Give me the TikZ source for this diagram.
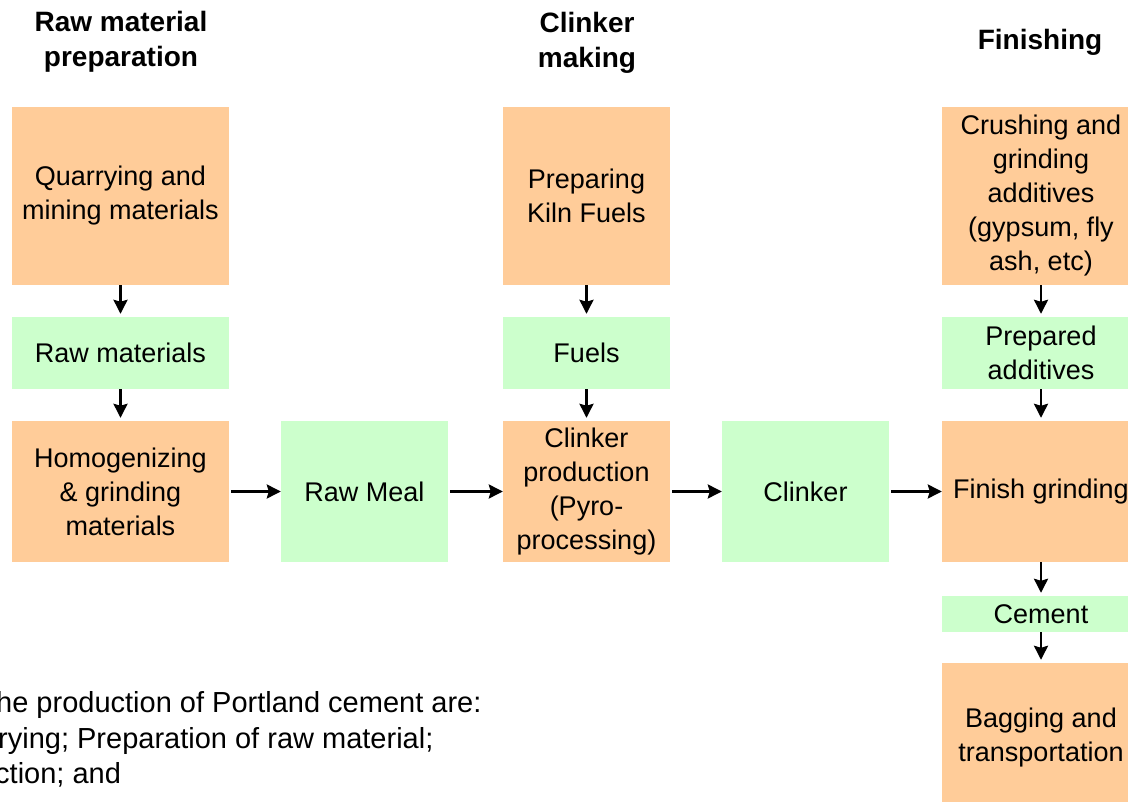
\documentclass[tikz,border=0pt]{standalone}
\usepackage{fontspec}
\setmainfont{Liberation Sans}
\usetikzlibrary{arrows.meta}
\definecolor{stageorange}{HTML}{FFCC99}
\definecolor{productgreen}{HTML}{CCFFCC}
\tikzset{
  stage/.style={fill=stageorange, inner sep=0pt, align=center, font=\fontsize{27}{34}\selectfont},
  product/.style={fill=productgreen, inner sep=0pt, align=center, font=\fontsize{27}{34}\selectfont},
  heading/.style={align=center, inner sep=0pt, font=\bfseries\fontsize{28}{35}\selectfont},
  flow/.style={-{Stealth[length=14pt,width=14pt,inset=2pt]}, line width=2.6pt},
  note/.style={anchor=base west, inner sep=0pt, font=\fontsize{29}{36}\selectfont}
}

\begin{document}
\begin{tikzpicture}[x=1pt,y=-1pt]
			%%%%% START %%%%%
			\useasboundingbox (0,0) rectangle (1128,802);
			
			\node[heading] (hraw) at (121,42) {Raw material\\preparation};
			\node[heading] (hclinker) at (587,43) {Clinker\\making};
			\node[heading] (hfinish) at (1040,42) {Finishing};
			
			\node[stage, minimum width=217pt, minimum height=178pt] (quarry) at (120.5,196) {Quarrying and\\mining materials};
			\node[product, minimum width=217pt, minimum height=72pt] (rawmat) at (120.5,353) {Raw materials};
			\node[stage, minimum width=217pt, minimum height=141pt] (homog) at (120.5,491.5) {Homogenizing\\\& grinding\\materials};
			
			\node[product, minimum width=167pt, minimum height=141pt] (rawmeal) at (364.5,491.5) {Raw Meal};
			
			\node[stage, minimum width=167pt, minimum height=178pt] (kilnfuel) at (586.5,196) {Preparing\\Kiln Fuels};
			\node[product, minimum width=167pt, minimum height=72pt] (fuels) at (586.5,353) {Fuels};
			\node[stage, minimum width=167pt, minimum height=141pt] (pyro) at (586.5,491.5) {Clinker\\production\\(Pyro-\\processing)};
			
			\node[product, minimum width=167pt, minimum height=141pt] (clinker) at (805.5,491.5) {Clinker};
			
			\node[stage, minimum width=198pt, minimum height=178pt] (crush) at (1041,196) {Crushing and\\grinding\\additives\\(gypsum, fly\\ash, etc)};
			\node[product, minimum width=198pt, minimum height=72pt] (additive) at (1041,353) {Prepared\\additives};
			\node[stage, minimum width=198pt, minimum height=141pt] (finish) at (1041,491.5) {Finish grinding};
			\node[product, minimum width=198pt, minimum height=36pt] (cement) at (1041,614) {Cement};
			\node[stage, minimum width=198pt, minimum height=150pt] (bagging) at (1041,738) {Bagging and\\transportation};
			
			\draw[flow, shorten >=3pt] (quarry) -- (rawmat);
			\draw[flow, shorten >=3pt] (rawmat) -- (homog);
			\draw[flow, shorten >=3pt] (kilnfuel) -- (fuels);
			\draw[flow, shorten >=3pt] (fuels) -- (pyro);
			\draw[flow, shorten >=3pt] (crush) -- (additive);
			\draw[flow, shorten >=3pt] (additive) -- (finish);
			\draw[flow, shorten >=3pt] (finish) -- (cement);
			\draw[flow, shorten >=3pt] (cement) -- (bagging);
			
			\draw[flow, shorten <=2pt] (homog) -- (rawmeal);
			\draw[flow, shorten <=2pt] (rawmeal) -- (pyro);
			\draw[flow, shorten <=2pt] (pyro) -- (clinker);
			\draw[flow, shorten <=2pt] (clinker) -- (finish);
			
			\node[note] (noteA) at (-4,712) {he production of Portland cement are:};
			\node[note] (noteB) at (-2,748) {rying; Preparation of raw material;};
			\node[note] (noteC) at (-5,783) {ction; and};
			%%%%% END %%%%%
\end{tikzpicture}
\end{document}
